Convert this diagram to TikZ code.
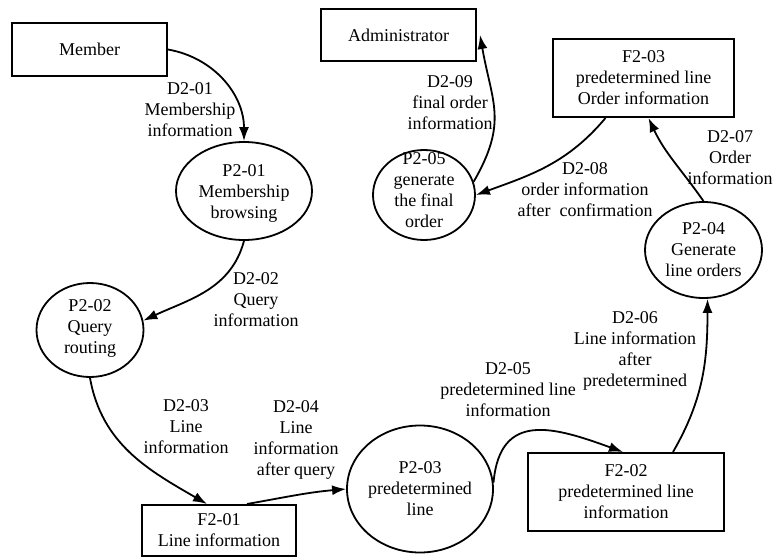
\documentclass[tikz,border=0pt]{standalone}
\usepackage{fontspec}
\setmainfont{Liberation Serif}
\usetikzlibrary{shapes.geometric,arrows.meta}

\tikzstyle{entity} = [draw, rectangle, line width=2pt, align=center]
\tikzstyle{process} = [draw, ellipse, line width=1.8pt, inner sep=0pt]
\tikzstyle{ptext} = [align=center]
\tikzstyle{flow} = [align=center]
\tikzstyle{arrow} = [line width=1.8pt,->,>={Latex[length=14pt,width=10pt]}]

\begin{document}
\begin{tikzpicture}[x=1pt,y=1pt,font=\fontsize{18}{21}\selectfont]
\useasboundingbox (0,0) rectangle (774,-557);

% External entities
\node (member) [entity, minimum width=155pt, minimum height=53pt] at (89.5,-49.5) {Member};
\node (admin) [entity, minimum width=155pt, minimum height=52pt] at (398.5,-35) {Administrator};

% Data stores
\node (f1) [entity, minimum width=154pt, minimum height=51pt] at (219,-530.5) {F2-01\\Line information};
\node (f2) [entity, minimum width=196pt, minimum height=78pt] at (626,-492) {F2-02\\predetermined line\\information};
\node (f3) [entity, minimum width=181pt, minimum height=78pt] at (643.5,-78) {F2-03\\predetermined line\\Order information};

% Processes
\node (p1) [process, minimum width=136pt, minimum height=98pt] at (244,-191) {};
\node (p1t) [ptext] at (244,-193) {P2-01\\Membership\\browsing};
\node (p2) [process, minimum width=107pt, minimum height=94pt] at (90,-330) {};
\node (p2t) [ptext] at (90,-328) {P2-02\\Query\\routing};
\node (p3) [process, minimum width=146pt, minimum height=127pt] at (420,-489) {};
\node (p3t) [ptext] at (420,-489) {P2-03\\predetermined\\line};
\node (p4) [process, minimum width=117pt, minimum height=96pt] at (703.5,-250) {};
\node (p4t) [ptext] at (703.5,-250) {P2-04\\Generate\\line orders};
\node (p5) [process, minimum width=102pt, minimum height=90pt] at (424,-195) {};
\node (p5t) [ptext] at (424,-190) {P2-05\\generate\\the final\\order};

% Flow labels
\node (d201) [flow] at (190,-110) {D2-01\\Membership\\information};
\node (d202) [flow] at (256,-300) {D2-02\\Query\\information};
\node (d203) [flow] at (186,-427) {D2-03\\Line\\information};
\node (d204) [flow] at (296,-440) {D2-04\\Line\\information\\after query};
\node (d205) [flow] at (508,-390) {D2-05\\predetermined line\\information};
\node (d206) [flow] at (635,-351) {D2-06\\Line information\\after\\predetermined};
\node (d207) [flow] at (730,-158) {D2-07\\Order\\information};
\node (d208) [flow] at (585,-190) {D2-08\\order information\\after\ \ confirmation};
\node (d209) [flow] at (450,-103) {D2-09\\final order\\information};

% Arrows
\draw [arrow] (member.east) to[out=-10,in=90] (p1.north);
\draw [arrow] (p1.south) to[out=-105,in=25] (p2.10);
\draw [arrow] (p2.south) to[out=-80,in=150] ([xshift=-12pt]f1.north);
\draw [arrow] ([xshift=28pt]f1.north) to[out=10,in=185] (p3.west);
\draw [arrow] (p3.5) to[out=85,in=160,looseness=1.4] ([xshift=-3pt]f2.north);
\draw [arrow] ([xshift=47pt]f2.north) to[out=60,in=-90] ([xshift=4pt]p4.south);
\draw [arrow] (p4.north) to[out=125,in=-65] ([xshift=5pt]f3.south);
\draw [arrow] ([xshift=-38pt]f3.south) to[out=-130,in=20] (p5.east);
\draw [arrow] (p5.15) to[out=60,in=-80,looseness=1.2] ([xshift=3pt]admin.east);

\end{tikzpicture}
\end{document}
